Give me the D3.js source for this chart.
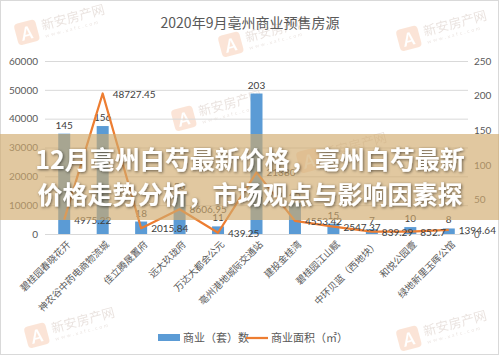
<!DOCTYPE html>
<html>
<head>
<meta charset="utf-8">
<script src="https://cdn.jsdelivr.net/npm/d3@7"></script>
<style>
  body { margin: 0; background: #fff; }
  text { font-family: Lato, "Noto Sans CJK SC", sans-serif; }
</style>
</head>
<body>
<svg id="chart" width="499" height="355"></svg>
<script>
// Data
const categories = ["碧桂园春晓花开", "神农谷中药电商物流城", "佳立腾晟置府", "远大玖珑府", "万达大都会公元",
  "亳州港地城际交通站", "建投金桂湾", "碧桂园江山赋", "中环贝蓝（西地块）", "和悦公园壹", "绿地新里玉晖公馆"];
const units = [145, 156, 18, 56, 11, 203, 45, 15, 7, 10, 8];
const area = [4975.22, 48727.45, 2015.84, 8606.95, 439.25, 21380, 4553.42, 2547.37, 839.29, 852.7, 1394.64];
const leftTicks = [0, 10000, 20000, 30000, 40000, 50000, 60000];
const rightTicks = [0, 50, 100, 150, 200, 250];
const chartTitle = "2020年9月亳州商业预售房源";
const legendNames = ["商业（套）数", "商业面积（㎡）"];
const headline = ["12月亳州白芍最新价格，亳州白芍最新", "价格走势分析，市场观点与影响因素探"];

const svg = d3.select("#chart");
const width = +svg.attr("width");
const height = +svg.attr("height");
const margin = { top: 61, bottom: 121, left: 45, right: 31 };
const plotBottom = height - margin.bottom;
const plotRight = width - margin.right;

const xScale = d3.scaleBand().domain(categories).range([margin.left, plotRight]).padding(0);
const yLeft = d3.scaleLinear().domain([0, 60000]).range([plotBottom, margin.top]);
const yRight = d3.scaleLinear().domain([0, 250]).range([plotBottom, margin.top]);
const cx = (d) => xScale(d) + xScale.bandwidth() / 2;
const barW = 12;

// outer border
svg.append("rect").attr("x", 0.5).attr("y", 0.5).attr("width", width - 1).attr("height", height - 1)
  .attr("fill", "#fff").attr("stroke", "#d9d9d9");

// Watermarks (faint)
const marks = [[18, 42], [222, 54], [400, 48], [175, 128], [28, 345], [400, 348], [300, 170]];
marks.forEach(([mx, my]) => {
  const w = svg.append("g").attr("transform", `translate(${mx},${my}) rotate(-15)`).attr("opacity", 0.22);
  w.append("rect").attr("x", 0).attr("y", -18).attr("width", 22).attr("height", 22).attr("rx", 4).attr("fill", "#ef8a4c");
  w.append("text").attr("x", 11).attr("y", 0).attr("text-anchor", "middle").attr("font-size", 18)
    .attr("font-style", "italic").attr("font-weight", "bold").attr("fill", "#fff").text("A");
  w.append("text").attr("x", 27).attr("y", -5).attr("font-size", 13).attr("fill", "#a08070")
    .style("font-family", "'Noto Sans CJK SC'").text("新安房产网");
  w.append("text").attr("x", 28).attr("y", 3).attr("font-size", 5).attr("fill", "#a08070")
    .attr("letter-spacing", 2).text("www.xafc.com");
});

// Title
svg.append("text").attr("x", 250).attr("y", 28).attr("text-anchor", "middle")
  .attr("font-size", 14).attr("fill", "#595959").style("font-family", "'Noto Sans CJK SC'")
  .text(chartTitle);

// Left axis + gridlines
const yAxisL = d3.axisLeft(yLeft).tickValues(leftTicks).tickFormat(d3.format("d"))
  .tickSize(-(plotRight - margin.left)).tickPadding(7);
const gl = svg.append("g").attr("transform", `translate(${margin.left},0)`).call(yAxisL);
gl.select(".domain").remove();
gl.selectAll("line").attr("stroke", "#d9d9d9");
gl.selectAll("text").attr("fill", "#595959").attr("font-size", 10).style("font-family", "Lato");

// Right axis
const yAxisR = d3.axisRight(yRight).tickValues(rightTicks).tickSize(0).tickPadding(6);
const gr = svg.append("g").attr("transform", `translate(${plotRight},0)`).call(yAxisR);
gr.select(".domain").remove();
gr.selectAll("text").attr("fill", "#595959").attr("font-size", 10).style("font-family", "Lato");

// Bars
svg.append("g").selectAll("rect").data(units).join("rect")
  .attr("x", (d, i) => cx(categories[i]) - barW / 2)
  .attr("y", (d) => yRight(d))
  .attr("width", barW)
  .attr("height", (d) => plotBottom - yRight(d))
  .attr("fill", "#5b9bd5");

svg.append("g").selectAll("text").data(units).join("text")
  .attr("x", (d, i) => cx(categories[i]))
  .attr("y", (d) => yRight(d) - 5)
  .attr("text-anchor", "middle").attr("font-size", 10).attr("fill", "#404040")
  .text((d) => d);

// Line
const lineGen = d3.line().x((d, i) => cx(categories[i])).y((d) => yLeft(d));
svg.append("path").attr("d", lineGen(area)).attr("fill", "none")
  .attr("stroke", "#ed7d31").attr("stroke-width", 2.25).attr("stroke-linejoin", "round");

svg.append("g").selectAll("text").data(area).join("text")
  .attr("x", (d, i) => cx(categories[i]) + 10)
  .attr("y", (d) => yLeft(d) + 4)
  .attr("font-size", 10).attr("fill", "#404040")
  .text((d) => d);

// X labels
svg.append("g").selectAll("text").data(categories).join("text")
  .attr("transform", (d) => `translate(${cx(d) + 7},${plotBottom + 11}) rotate(-45)`)
  .attr("text-anchor", "end").attr("font-size", 9.5).attr("fill", "#595959")
  .style("font-family", "'Noto Sans CJK SC'")
  .text((d) => d);

// Legend
const lg = svg.append("g").attr("transform", "translate(158,338)");
lg.append("rect").attr("x", 0).attr("y", -4).attr("width", 22).attr("height", 7).attr("fill", "#5b9bd5");
lg.append("text").attr("x", 25).attr("y", 4).attr("font-size", 11).attr("fill", "#595959")
  .style("font-family", "'Noto Sans CJK SC'").text(legendNames[0]);
lg.append("line").attr("x1", 88).attr("x2", 110).attr("y1", 0).attr("y2", 0)
  .attr("stroke", "#ed7d31").attr("stroke-width", 2.25);
lg.append("text").attr("x", 113).attr("y", 4).attr("font-size", 11).attr("fill", "#595959")
  .style("font-family", "'Noto Sans CJK SC'").text(legendNames[1]);

// Headline band
svg.append("rect").attr("x", 0).attr("y", 134).attr("width", width).attr("height", 86)
  .attr("fill", "rgb(209,171,109)").attr("fill-opacity", 0.65);

const defs = svg.append("defs");
const f = defs.append("filter").attr("id", "shadow").attr("x", "-10%").attr("y", "-30%")
  .attr("width", "120%").attr("height", "160%");
f.append("feDropShadow").attr("dx", 1).attr("dy", 1).attr("stdDeviation", 1.5)
  .attr("flood-color", "#000").attr("flood-opacity", 0.55);

svg.append("g").selectAll("text").data(headline).join("text")
  .attr("x", 250)
  .attr("y", (d, i) => 169 + i * 35)
  .attr("text-anchor", "middle").attr("font-size", 25).attr("font-weight", "bold")
  .attr("fill", "#fff").attr("filter", "url(#shadow)")
  .style("font-family", "'Noto Sans CJK SC'")
  .text((d) => d);
</script>
</body>
</html>
